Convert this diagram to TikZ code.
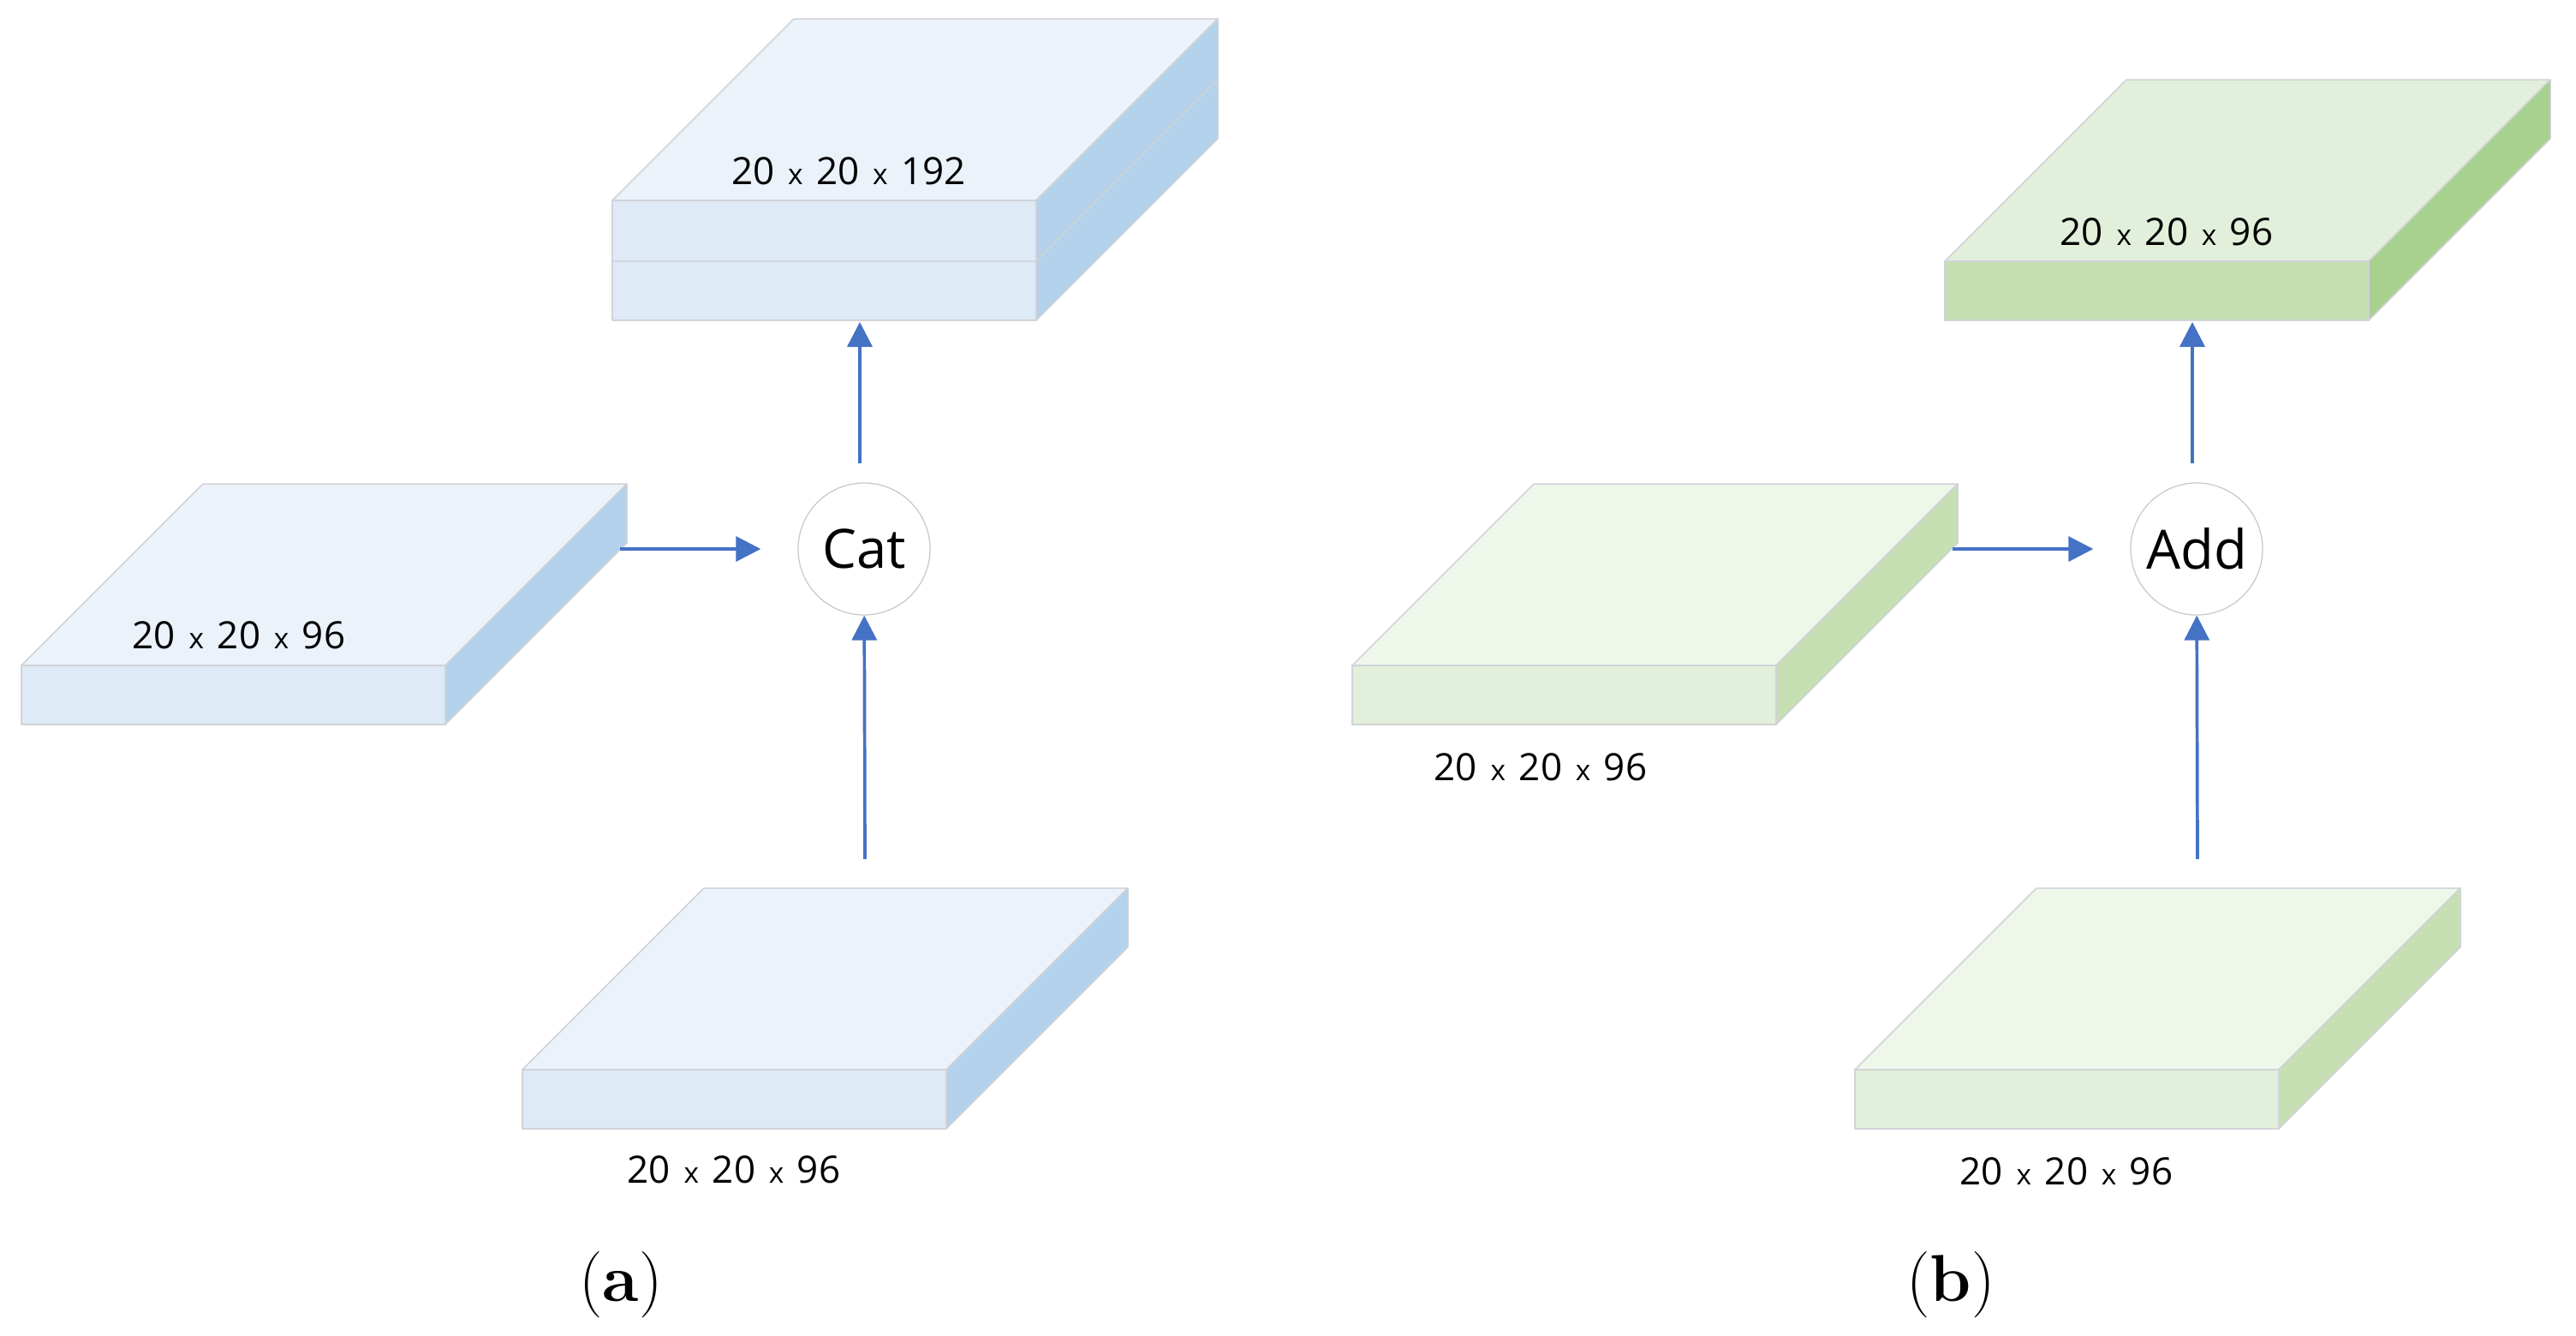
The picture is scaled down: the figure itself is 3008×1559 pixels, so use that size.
\documentclass[tikz,border=0pt]{standalone}
\usepackage{fontspec}
\usetikzlibrary{arrows.meta}
\newfontfamily\lblfont{Open Sans}
\newcommand{\smallx}{\kern1.2pt{\fontsize{9.5pt}{10pt}\selectfont x}\kern1.2pt}
\definecolor{btop}{HTML}{EBF2FA}
\definecolor{bfront}{HTML}{DEEAF6}
\definecolor{bside}{HTML}{B4D2EB}
\definecolor{gtopA}{HTML}{E2EFDA}
\definecolor{gfrontA}{HTML}{C6E0B4}
\definecolor{gsideA}{HTML}{A9D18E}
\definecolor{gtopB}{HTML}{EFF6EA}
\definecolor{gfrontB}{HTML}{E2EFDA}
\definecolor{gsideB}{HTML}{C6E0B4}
\definecolor{edgegray}{HTML}{D0D3D8}
\definecolor{arrblue}{HTML}{4472C4}
\tikzset{
  edge/.style={draw=edgegray, line width=0.015cm, line join=round},
  arr/.style={draw=arrblue, line width=0.037cm, -{Triangle[length=0.29cm,width=0.29cm]}},
  opnode/.style={circle, draw=black!22, line width=0.012cm, minimum size=1.54cm, inner sep=0pt, font=\lblfont\fontsize{18pt}{20pt}\selectfont},
  lbl/.style={inner sep=0pt, font=\lblfont\fontsize{12.5pt}{14pt}\selectfont},
  captxt/.style={inner sep=0pt, font=\fontsize{22pt}{24pt}\selectfont}
}
% #1 x, #2 y (front-left top corner), #3 front height, #4 top, #5 front, #6 side
\newcommand{\slab}[6]{%
  \begin{scope}[shift={(#1,#2)}]
    \filldraw[fill=#4, edge] (0,0) -- (212,-212) -- (707,-212) -- (495,0) -- cycle;
    \filldraw[fill=#5, edge] (0,0) rectangle (495,#3);
    \filldraw[fill=#6, edge] (495,0) -- (707,-212) -- (707,#3-212) -- (495,#3) -- cycle;
  \end{scope}}
\begin{document}
\begin{tikzpicture}[x=0.01cm, y=-0.01cm]
\useasboundingbox (0,0) rectangle (3008,1559);
% ---------- (a) ----------
\slab{715}{234}{140}{btop}{bfront}{bside}
\draw[edge] (715,305) -- (1210,305) -- (1422,93);
\slab{25}{777}{69}{btop}{bfront}{bside}
\slab{610}{1249}{69}{btop}{bfront}{bside}
\node[lbl] (aT-lbl) at (991,200) {20 \smallx{} 20 \smallx{} 192};
\node[lbl] (aL-lbl) at (279,742) {20 \smallx{} 20 \smallx{} 96};
\node[lbl] (aB-lbl) at (857,1366) {20 \smallx{} 20 \smallx{} 96};
\node[opnode] (cat) at (1009,641) {Cat};
\coordinate (aL-out) at (724,641);
\coordinate (aT-in) at (1004,376);
\coordinate (aB-out) at (1010,1003);
\draw[arr, shorten >=0.43cm] (aL-out) -- (cat);
\draw[arr, shorten <=0.22cm] (cat.north -| aT-in) -- (aT-in);
\draw[arr] (aB-out) -- (cat);
\node[captxt] (acap) at (725,1500) {(\textbf{a})};
% ---------- (b) ----------
\slab{2271}{305}{69}{gtopA}{gfrontA}{gsideA}
\slab{1579}{777}{69}{gtopB}{gfrontB}{gsideB}
\slab{2166}{1249}{69}{gtopB}{gfrontB}{gsideB}
\node[lbl] (bT-lbl) at (2530,271) {20 \smallx{} 20 \smallx{} 96};
\node[lbl] (bL-lbl) at (1799,896) {20 \smallx{} 20 \smallx{} 96};
\node[lbl] (bB-lbl) at (2413,1368) {20 \smallx{} 20 \smallx{} 96};
\node[opnode] (add) at (2565,641) {Add};
\coordinate (bL-out) at (2280,641);
\coordinate (bT-in) at (2560,376);
\coordinate (bB-out) at (2566,1003);
\draw[arr, shorten >=0.43cm] (bL-out) -- (add);
\draw[arr, shorten <=0.22cm] (add.north -| bT-in) -- (bT-in);
\draw[arr] (bB-out) -- (add);
\node[captxt] (bcap) at (2278,1500) {(\textbf{b})};
\end{tikzpicture}
\end{document}
